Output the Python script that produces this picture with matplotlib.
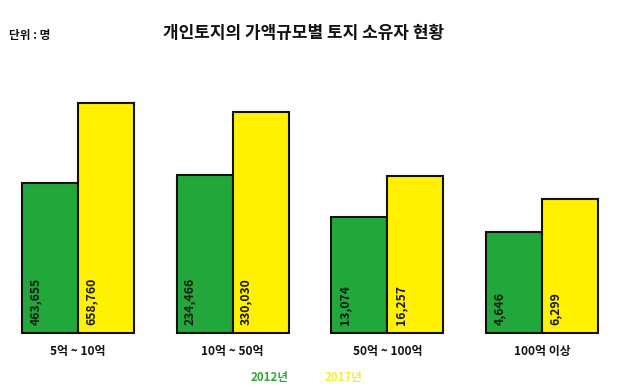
import matplotlib
matplotlib.use('Agg')
import matplotlib.pyplot as plt
import numpy as np

plt.rcParams['font.family'] = ['Noto Sans CJK KR', 'DejaVu Sans']

# data
categories = ['5억 ~ 10억', '10억 ~ 50억', '50억 ~ 100억', '100억 이상']
owners_2012 = [463655, 234466, 13074, 4646]
owners_2017 = [658760, 330030, 16257, 6299]
# bar heights as drawn in the original graphic (not proportional to the values)
height_2012 = [150, 158, 116, 101]
height_2017 = [230, 221, 157, 134]
series_names = ['2012년', '2017년']

green = '#22a83a'
yellow = '#fff100'

fig = plt.figure(figsize=(6.2, 3.9), dpi=100)
ax = fig.add_axes([0, 57 / 390, 1, 243 / 390])
ax.set_xlim(-0.504, 3.504)
ax.set_ylim(0, 243)
ax.axis('off')

x = np.arange(len(categories))
w = 0.362
ax.bar(x - w / 2, height_2012, w, color=green, edgecolor='#111111', linewidth=1.5, clip_on=False)
ax.bar(x + w / 2, height_2017, w, color=yellow, edgecolor='#111111', linewidth=1.5, clip_on=False)

for i in range(len(categories)):
    ax.text(x[i] - w + 0.085, 8, f'{owners_2012[i]:,}', rotation=90, ha='center', va='bottom',
            fontsize=8.8, fontweight='bold', color='#1a1a1a')
    ax.text(x[i] + 0.085, 8, f'{owners_2017[i]:,}', rotation=90, ha='center', va='bottom',
            fontsize=8.8, fontweight='bold', color='#1a1a1a')
    ax.text(x[i], -19, categories[i], ha='center', va='center', fontsize=8.6,
            fontweight='bold', color='#111111')

fig.text(270 / 620, 1 - 378 / 390, series_names[0], ha='center', va='center',
         fontsize=8.3, fontweight='bold', color='#2ea836')
fig.text(344 / 620, 1 - 378 / 390, series_names[1], ha='center', va='center',
         fontsize=8.3, fontweight='bold', color='#f7ef2a')

fig.text(0.489, 0.915, '개인토지의 가액규모별 토지 소유자 현황', ha='center', va='center',
         fontsize=12.2, fontweight='bold', color='#111111')
fig.text(0.0145, 0.908, '단위 : 명', ha='left', va='center', fontsize=8.4,
         fontweight='bold', color='#111111')

fig.savefig('out.png', dpi=100, facecolor='white')
